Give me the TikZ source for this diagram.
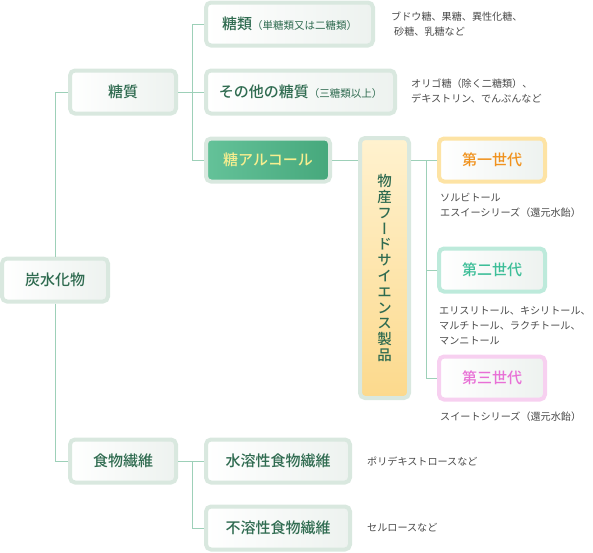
\documentclass[tikz,border=0pt]{standalone}
\usepackage{fontspec}
\setmainfont{Noto Sans CJK JP}[BoldFont={Noto Sans CJK JP Medium}]
\newfontfamily\vertfont[RawFeature=+vert,BoldFont={Noto Sans CJK JP Medium}]{Noto Sans CJK JP}
\newcommand{\subnote}[1]{{\mdseries\fontsize{10.5}{12}\selectfont#1}}
\definecolor{boxline}{HTML}{D9E8DF}
\definecolor{boxfill}{HTML}{EDF2EF}
\definecolor{txtgreen}{HTML}{2F6B50}
\definecolor{notegray}{HTML}{4A4A4A}
\definecolor{linkgreen}{HTML}{9DD0B8}
\definecolor{alcleft}{HTML}{64C299}
\definecolor{alcright}{HTML}{46A87C}
\definecolor{alctext}{HTML}{F7EE8F}
\definecolor{prodtop}{HTML}{FFF2CF}
\definecolor{prodbottom}{HTML}{FCD98C}
\definecolor{onelinecol}{HTML}{FDE3A4}
\definecolor{onetext}{HTML}{F0921E}
\definecolor{twolinecol}{HTML}{BDEADB}
\definecolor{twotext}{HTML}{3DBE98}
\definecolor{threelinecol}{HTML}{F7D0F0}
\definecolor{threetext}{HTML}{E870D6}

\begin{document}
\begin{tikzpicture}[x=1pt,y=-1pt]
	\tikzstyle{box}=[draw=boxline,line width=4pt,rounded corners=5pt,left color=white,right color=boxfill,text=txtgreen,font=\bfseries\fontsize{15}{18}\selectfont,minimum height=43pt,inner sep=0pt]
	\tikzstyle{note}=[anchor=west,align=left,text=notegray,font=\fontsize{10.1}{15}\selectfont,inner sep=0pt]
	\tikzstyle{link}=[draw=linkgreen,line width=1pt]
	\useasboundingbox (0,0) rectangle (593,552);
	\node[box,minimum width=106pt] (root) at (55,280) {炭水化物};
	\node[box,minimum width=106pt] (toshitsu) at (123,92) {糖質};
	\node[box,minimum width=167pt] (tourui) at (289.5,24) {糖類\subnote{（単糖類又は二糖類）}};
	\node[box,minimum width=189pt] (sonota) at (300.5,92) {その他の糖質\subnote{（三糖類以上）}};
	\node[box,minimum width=124pt,left color=alcleft,right color=alcright,text=alctext] (alc) at (268,160) {糖アルコール};
	\node[box,minimum width=49pt,minimum height=260pt,top color=prodtop,bottom color=prodbottom,align=center,font=\vertfont\bfseries\fontsize{14.5}{15.8}\selectfont] (bussan) at (384.5,268) {物\\産\\フ\\ー\\ド\\サ\\イ\\エ\\ン\\ス\\製\\品};
	\node[box,minimum width=106pt,draw=onelinecol,text=onetext] (gen1) at (492,160) {第一世代};
	\node[box,minimum width=106pt,draw=twolinecol,text=twotext] (gen2) at (492,270) {第二世代};
	\node[box,minimum width=106pt,draw=threelinecol,text=threetext] (gen3) at (492,378) {第三世代};
	\node[box,minimum width=106pt] (fiber) at (123,461) {食物繊維};
	\node[box,minimum width=144pt] (sui) at (278,461) {水溶性食物繊維};
	\node[box,minimum width=144pt] (fuyo) at (278,528) {不溶性食物繊維};
	\node[note] (n1) at (391,24) {ブドウ糖、果糖、異性化糖、\\\hspace{3pt}砂糖、乳糖など};
	\node[note] (n2) at (411,91) {オリゴ糖（除く二糖類）、\\デキストリン、でんぷんなど};
	\node[note] (n3) at (440,205.5) {ソルビトール\\エスイーシリーズ（還元水飴）};
	\node[note] (n4) at (439,326) {エリスリトール、キシリトール、\\マルチトール、ラクチトール、\\マンニトール};
	\node[note] (n5) at (440,417) {スイートシリーズ（還元水飴）};
	\node[note] (n6) at (367,461) {ポリデキストロースなど};
	\node[note] (n7) at (367,528) {セルロースなど};
	\coordinate (j1) at (192,92);
	\coordinate (j2) at (192,461);
	\coordinate (j3) at (426,160);
	\draw[link] (root) |- (toshitsu);
	\draw[link] (root) |- (fiber);
	\draw[link] (toshitsu) -- (j1) |- (tourui);
	\draw[link] (j1) -- (sonota);
	\draw[link] (j1) |- (alc);
	\draw[link] (alc) -- (alc -| bussan.west);
	\draw[link] (gen1 -| bussan.east) -- (gen1);
	\draw[link] (j3) |- (gen2);
	\draw[link] (j3) |- (gen3);
	\draw[link] (fiber) -- (j2) -- (sui);
	\draw[link] (j2) |- (fuyo);
\end{tikzpicture}
\end{document}
